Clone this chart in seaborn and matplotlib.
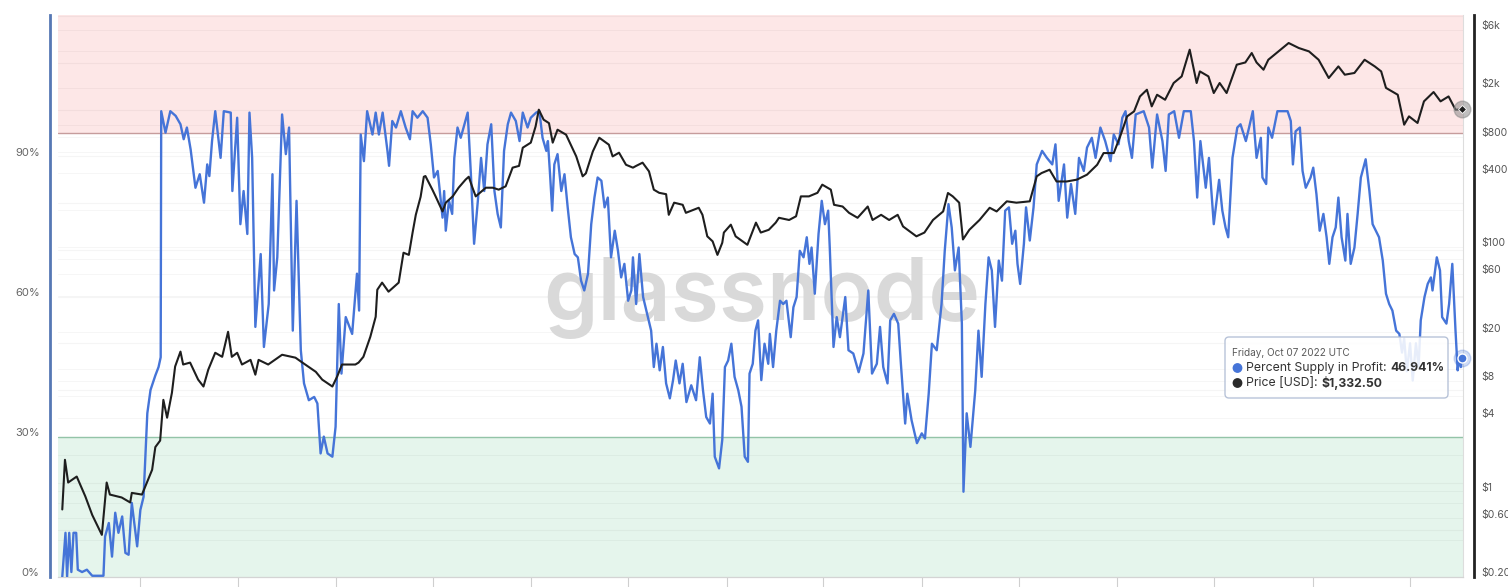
import numpy as np
import pandas as pd
import matplotlib
matplotlib.use("Agg")
import matplotlib.pyplot as plt
import matplotlib.dates as mdates
import seaborn as sns
from matplotlib.transforms import ScaledTranslation, IdentityTransform, blended_transform_factory
from matplotlib.patches import FancyBboxPatch, Circle
from matplotlib.ticker import NullLocator

# ---------------- data ----------------
price_dates = [
    "2015-08-08", "2015-08-13", "2015-08-19", "2015-09-04", "2015-09-20", "2015-10-03", "2015-10-21",
    "2015-10-30", "2015-11-05", "2015-11-27", "2015-12-13", "2015-12-16", "2016-01-04", "2016-01-23",
    "2016-01-29", "2016-02-07", "2016-02-13", "2016-02-20", "2016-02-29", "2016-03-06", "2016-03-16",
    "2016-03-21", "2016-04-03", "2016-04-18", "2016-04-28", "2016-05-07", "2016-05-20", "2016-06-02",
    "2016-06-13", "2016-06-20", "2016-06-30", "2016-07-09", "2016-07-25", "2016-08-03", "2016-08-09",
    "2016-08-27", "2016-09-22", "2016-10-17", "2016-10-30", "2016-11-24", "2016-12-06", "2016-12-25",
    "2017-01-03", "2017-01-12", "2017-02-06", "2017-02-12", "2017-02-21", "2017-03-06", "2017-03-16",
    "2017-03-19", "2017-03-28", "2017-04-09", "2017-04-28", "2017-05-07", "2017-05-17", "2017-05-24",
    "2017-05-30", "2017-06-08", "2017-06-14", "2017-06-17", "2017-06-30", "2017-07-06", "2017-07-19",
    "2017-07-25", "2017-08-07", "2017-08-18", "2017-08-31", "2017-09-06", "2017-09-13", "2017-09-19",
    "2017-10-08", "2017-10-21", "2017-11-01", "2017-11-14", "2017-11-27", "2017-12-09", "2017-12-16",
    "2017-12-31", "2018-01-09", "2018-01-15", "2018-01-24", "2018-02-03", "2018-02-10", "2018-02-19",
    "2018-03-07", "2018-03-26", "2018-04-07", "2018-04-13", "2018-04-26", "2018-05-08", "2018-05-26",
    "2018-06-02", "2018-06-14", "2018-06-27", "2018-07-10", "2018-07-16", "2018-07-28", "2018-08-09",
    "2018-08-18", "2018-08-28", "2018-09-10", "2018-09-15", "2018-09-25", "2018-10-11", "2018-10-17",
    "2018-11-10", "2018-11-17", "2018-11-26", "2018-12-06", "2018-12-15", "2018-12-24", "2018-12-27",
    "2019-01-09", "2019-01-18", "2019-01-31", "2019-02-09", "2019-02-25", "2019-03-06", "2019-03-21",
    "2019-04-03", "2019-04-09", "2019-04-28", "2019-05-11", "2019-05-20", "2019-06-04", "2019-06-20",
    "2019-06-29", "2019-07-09", "2019-07-15", "2019-07-21", "2019-08-06", "2019-08-18", "2019-09-03",
    "2019-09-22", "2019-10-01", "2019-10-17", "2019-11-01", "2019-11-17", "2019-11-27", "2019-12-22",
    "2020-01-06", "2020-01-22", "2020-02-10", "2020-02-19", "2020-02-28", "2020-03-11", "2020-03-18",
    "2020-03-30", "2020-04-18", "2020-05-07", "2020-05-20", "2020-06-08", "2020-06-26", "2020-07-21",
    "2020-08-03", "2020-08-12", "2020-08-27", "2020-09-09", "2020-09-28", "2020-10-17", "2020-11-05",
    "2020-11-24", "2020-12-06", "2020-12-25", "2021-01-06", "2021-01-19", "2021-02-01", "2021-02-12",
    "2021-02-25", "2021-03-06", "2021-03-16", "2021-03-31", "2021-04-16", "2021-05-01", "2021-05-16",
    "2021-05-29", "2021-06-04", "2021-06-20", "2021-06-30", "2021-07-11", "2021-07-24", "2021-08-12",
    "2021-08-28", "2021-09-09", "2021-09-18", "2021-10-01", "2021-10-10", "2021-10-29", "2021-11-17",
    "2021-12-06", "2021-12-25", "2022-01-12", "2022-01-31", "2022-02-18", "2022-03-02", "2022-03-20",
    "2022-04-08", "2022-04-27", "2022-05-09", "2022-05-18", "2022-06-09", "2022-06-21", "2022-06-30",
    "2022-07-16", "2022-07-28", "2022-08-15", "2022-08-28", "2022-09-12", "2022-09-25", "2022-10-07",
]
price_usd = [
    0.71, 1.81, 1.18, 1.32, 0.91, 0.64, 0.44,
    1.18, 0.94, 0.89, 0.81, 0.97, 0.94, 1.5,
    2.3, 2.6, 5.6, 4.0, 6.4, 10.5, 13.9,
    10.9, 11.3, 8.2, 7.2, 9.9, 13.6, 12.6,
    20.2, 12.6, 13.6, 10.9, 11.9, 9.0, 11.9,
    10.9, 13.1, 12.4, 11.3, 9.5, 8.2, 7.2,
    8.7, 10.9, 10.9, 11.3, 12.6, 18.4, 26.8,
    44.6, 51, 43, 51, 89.6, 86, 131,
    183, 257, 375, 380, 294, 259, 195,
    230, 259, 305, 355, 375, 305, 259,
    305, 305, 294, 313, 445, 460, 648,
    713, 968, 1327, 1099, 1030, 713, 910,
    828, 550, 378, 400, 604, 782, 686,
    550, 590, 470, 445, 460, 489, 415,
    294, 277, 270, 183, 230, 221, 190,
    209, 183, 122, 111, 86, 108, 131,
    152, 122, 111, 104, 158, 131, 138,
    158, 173, 166, 178, 259, 259, 277,
    323, 305, 294, 221, 214, 190, 173,
    214, 166, 183, 166, 183, 147, 122,
    131, 166, 195, 276, 259, 230, 115,
    138, 166, 209, 195, 236, 230, 236,
    378, 402, 428, 343, 343, 355, 390,
    470, 586, 586, 802, 1170, 1285, 1703,
    1932, 1412, 1758, 1600, 2193, 2485, 4110,
    2193, 2730, 2485, 1816, 2193, 1816, 3097,
    3230, 3860, 3230, 2818, 3400, 3980, 4660,
    4240, 3980, 3400, 2410, 3000, 2565, 2650,
    3400, 3000, 2730, 2000, 1758, 1000, 1170,
    1033, 1552, 1850, 1552, 1703, 1327, 1332.50,
]

# days since 2016-01-01
profit_day_offsets = [
    -146, -140, -137, -133, -129, -125, -120, -117, -109, -100, -90, -69, -66, -59, -53, -47, -41, -34,
    -28, -22, -16, -6, 0, 6, 13, 19, 28, 34, 38, 39, 47, 56, 66, 75, 81, 87, 94, 103, 111, 119, 125,
    129, 134, 140, 150, 156, 169, 172, 181, 187, 193, 200, 204, 209, 215, 220, 225, 231, 240, 247, 250,
    256, 265, 272, 278, 285, 292, 300, 306, 315, 325, 331, 337, 343, 350, 359, 365, 371, 376, 384, 396,
    405, 409, 412, 418, 424, 434, 440, 446, 453, 462, 465, 471, 478, 487, 496, 504, 509, 518, 528, 537,
    543, 549, 556, 565, 568, 571, 577, 583, 587, 593, 599, 612, 618, 624, 631, 637, 643, 649, 656, 662,
    668, 674, 680, 687, 693, 702, 709, 715, 724, 730, 740, 746, 752, 759, 762, 766, 770, 774, 780, 787,
    793, 799, 805, 812, 818, 824, 830, 837, 843, 849, 855, 862, 868, 874, 880, 887, 893, 899, 905, 912,
    918, 921, 927, 933, 940, 946, 955, 960, 965, 971, 977, 983, 990, 996, 1001, 1008, 1014, 1021, 1030,
    1039, 1046, 1052, 1058, 1065, 1070, 1074, 1082, 1088, 1093, 1099, 1105, 1111, 1118, 1124, 1130,
    1136, 1139, 1145, 1150, 1155, 1161, 1167, 1174, 1177, 1183, 1189, 1196, 1202, 1208, 1216, 1221,
    1227, 1233, 1240, 1246, 1251, 1255, 1261, 1268, 1274, 1280, 1286, 1289, 1296, 1302, 1308, 1318,
    1324, 1333, 1343, 1352, 1361, 1368, 1377, 1383, 1389, 1397, 1402, 1409, 1417, 1422, 1430, 1434,
    1442, 1452, 1461, 1467, 1474, 1480, 1489, 1498, 1504, 1511, 1517, 1523, 1530, 1536, 1539, 1545,
    1552, 1561, 1567, 1573, 1580, 1586, 1592, 1598, 1605, 1611, 1617, 1624, 1630, 1636, 1640, 1645,
    1652, 1656, 1663, 1670, 1676, 1686, 1695, 1705, 1711, 1717, 1727, 1733, 1740, 1748, 1755, 1764,
    1770, 1779, 1786, 1795, 1804, 1814, 1820, 1829, 1836, 1842, 1848, 1854, 1861, 1876, 1886, 1892,
    1901, 1911, 1917, 1923, 1933, 1942, 1951, 1964, 1970, 1976, 1982, 1992, 1998, 2007, 2017, 2023,
    2029, 2034, 2042, 2051, 2057, 2067, 2073, 2080, 2087, 2095, 2098, 2105, 2109, 2116, 2126, 2145,
    2151, 2155, 2160, 2168, 2173, 2179, 2188, 2193, 2199, 2205, 2212, 2218, 2223, 2229, 2235, 2240,
    2246, 2253, 2257, 2263, 2270, 2276, 2282, 2291, 2298, 2304, 2310, 2316, 2323, 2329, 2335, 2341,
    2348, 2354, 2359, 2363, 2368, 2374, 2379, 2385, 2390, 2394, 2401, 2407, 2413, 2416, 2424, 2430,
    2434, 2442, 2447, 2453, 2459, 2463, 2466, 2469, 2471,
]
profit_pct = [
    0, 9.4, 0, 9.4, 1, 9.4, 9.4, 1.5, 1, 1.5, 0.2, 0.2, 8.6, 11.5, 4.3, 13.7, 9.4, 12.9,
    5.1, 4.7, 15.8, 6.5, 14.3, 17.1, 35, 40, 43.1, 44.9, 47, 99.7, 95.1, 99.7, 98.7, 96.9, 93.7, 96.2, 91.5, 83.3, 86.2, 80.1, 88.3,
    85.8, 93.3, 99.7, 89.7, 99.7, 99.4, 82.6, 98.3, 75.5, 82.6, 73.4, 99.4, 89.7, 53.5, 61.3, 69.1, 49.2, 58.4, 86.2, 61.3,
    68.4, 99, 90.5, 96.2, 52.7, 80.5, 48.5, 41.4, 37.8, 38.5, 37.1, 26.4, 30, 26.4, 25.7, 32.1, 58.4, 43.5, 55.6, 52,
    64.9, 57, 94.7, 89, 99.7, 94.7, 99.4, 94.7, 99.4, 91.2, 88, 97.6, 96.2, 99.7, 96.2, 93.7, 99.7, 98.3, 99.7, 98.3,
    92.6, 85.5, 86.9, 76.9, 82.6, 74.1, 80.5, 77.7, 89.7, 96.2, 94, 99.4, 86.2, 71.3, 80.5, 89.7, 82.6, 92.6, 96.9, 82.6,
    77.7, 74.8, 91.2, 96.9, 99.4, 97.6, 93.3, 99.4, 96.2, 98.3, 99.4, 99.7, 94, 91.2, 93.3, 86.2, 78.4, 88.3, 90.5, 82.6,
    86.2, 79.1, 72.7, 69.1, 68.4, 63.4, 61.3, 64.9, 75.5, 81.2, 85.5, 84.8, 79.1, 81.2, 68.4, 74.1, 69.8, 64.1, 67, 59.1,
    61.3, 68.4, 58.4, 69.1, 59.9, 57, 52.7, 44.9, 49.9, 44.2, 49.2, 41.4, 38.2, 42.1, 46.3, 41.4, 45.6, 37.4, 41,
    37.8, 47, 39.9, 34.2, 32.8, 39.2, 25.7, 23.2, 29.3, 44.9, 46.3, 49.9, 42.8, 39.9, 36.4, 25.7,
    24.6, 43.5, 45.6, 52.7, 54.9, 42.1, 49.9, 45.6, 52, 44.9, 52.7, 59.1, 58.4, 59.1, 51.3, 57.7,
    59.9, 69.8, 68.4, 72.7, 67, 70.5, 60.6, 73.4, 80.5, 75.5, 78.4, 70.5, 49.2, 55.6, 51.3, 59.9,
    48.5, 47.8, 43.8, 47.8, 61.3, 43.5, 45.6, 53.5, 44.9, 41.4, 54.9, 56.3, 54.2, 45.6, 32.8, 39.2,
    33.5, 28.6, 30.7, 29.6, 39.2, 49.9, 48.5, 58.4, 69.8, 79.8, 74.8, 65.6, 70.5, 54.2, 18.2, 35,
    27.8, 39.9, 52.7, 42.8, 58.4, 68.4, 65.6, 53.5, 67.7, 63.4, 78.4, 79.1, 71.3, 74.1, 67, 62.7,
    71.3, 79.1, 72, 79.1, 88.3, 91.2, 89.7, 88.3, 92.6, 80.5, 88.3, 76.9, 84.1, 77.7, 89.7, 86.9,
    91.9, 94, 89.7, 96.2, 93.3, 89, 94.7, 92.6, 98.3, 99.7, 93.3, 89.7, 99, 99.7, 96.2, 87.6,
    99, 93.3, 86.9, 99, 99.7, 94, 99.7, 99.7, 93.3, 81.2, 93.3, 83.3, 89.7, 75.5, 85, 78.4,
    74.8, 72.7, 89.7, 96.2, 96.9, 93.3, 96.2, 99.7, 89.7, 94, 85.5, 84.1, 96.2, 94, 99.7, 99.7,
    97.6, 88.3, 95.4, 96.2, 86.9, 83.3, 85.5, 87.6, 81.9, 74.1, 77.7, 72.7, 67, 72.7, 74.8, 81.2,
    72.7, 67.7, 77.7, 67, 70.5, 77.7, 85.5, 89.4, 82.6, 75.5, 74.1, 72.7, 67.7, 60.6, 58.4, 57,
    52.7, 52, 48, 51, 44, 50, 42, 50, 45, 54.9, 59.9, 62.7, 64.1, 61.3, 68.4, 65.6,
    55.6, 54.2, 58.4, 67, 52.7, 44.2, 47, 44.9, 46.941,
]

left_ticks = [0, 30, 60, 90]
left_tick_labels = ["0%", "30%", "60%", "90%"]
right_ticks = [0.2, 0.6, 1, 4, 8, 20, 60, 100, 400, 800, 2000, 6000]
right_tick_labels = ["$0.20", "$0.60", "$1", "$4", "$8", "$20", "$60", "$100", "$400", "$800", "$2k", "$6k"]
price_grid = [0.4, 0.6, 0.8, 1, 2, 4, 6, 8, 10, 20, 40, 60, 80, 100, 200, 400, 600, 800,
              1000, 2000, 4000, 6000]
upper_band = 95
lower_band = 30
tooltip_date = "2022-10-07"
tooltip_title = "Friday, Oct 07 2022 UTC"
tooltip_pct = 46.941
tooltip_price = 1332.50

# ---------------- style ----------------
sns.set_style("white")
plt.rcParams["font.family"] = ["Inter", "DejaVu Sans"]

BLUE = "#4574d8"
BLACK = "#1e1e1e"

W, H = 1508, 587
fig = plt.figure(figsize=(W / 100, H / 100), dpi=100)
ax = fig.add_axes([58 / W, (H - 576.7) / H, (1463 - 58) / W, (576.7 - 15) / H])
ax2 = ax.twinx()

profit_df = pd.DataFrame({
    "date": pd.Timestamp("2016-01-01") + pd.to_timedelta(profit_day_offsets, unit="D"),
    "pct": profit_pct,
})
price_df = pd.DataFrame({"date": pd.to_datetime(price_dates), "price": price_usd})

ax.set_ylim(0, 120.3)
ax2.set_yscale("log")
ax2.set_ylim(0.2, 7900)
xmin, xmax = pd.Timestamp("2015-07-31"), pd.Timestamp("2022-10-09")

# bands
ax.axhspan(upper_band, 120.3, color="#fde7e7", lw=0, zorder=0)
ax.axhspan(0, lower_band, color="#e5f5ec", lw=0, zorder=0)

# gridlines (percent and log price)
for v in range(10, 121, 10):
    ax.axhline(v, color="#000000", alpha=0.04, lw=0.8, zorder=0.5)
btrans = blended_transform_factory(ax.transAxes, ax2.transData)
for v in price_grid:
    ax.plot([0, 1], [v, v], transform=btrans, color="#000000", alpha=0.035, lw=0.8, zorder=0.5)

ax.axhline(upper_band, color="#c69c9c", lw=1.0, zorder=1)
ax.axhline(lower_band, color="#93c4a8", lw=1.0, zorder=1)

# watermark
ax.text(762 / W, 1 - 320 / H, "glassnode", transform=fig.transFigure, ha="center", va="baseline",
        fontsize=63, fontweight="semibold", color="#d9d9d9", zorder=0.8, clip_on=False)

# series
sns.lineplot(data=profit_df, x="date", y="pct", ax=ax, color=BLUE, lw=1.7, zorder=3,
             estimator=None, sort=False)
sns.lineplot(data=price_df, x="date", y="price", ax=ax2, color=BLACK, lw=1.5, zorder=3,
             estimator=None, sort=False)

ax.set_xlim(xmin, xmax)
ax2.set_xlim(xmin, xmax)
ax.set_xlabel("")
ax.set_ylabel("")
ax2.set_xlabel("")
ax2.set_ylabel("")

# end markers
td = pd.Timestamp(tooltip_date)
ax.plot([td], [tooltip_pct], "o", ms=12, color=BLUE, alpha=0.25, zorder=6, clip_on=False)
ax.plot([td], [tooltip_pct], "o", ms=6.5, color=BLUE, mec="white", mew=1.0, zorder=7, clip_on=False)
ax2.plot([td], [tooltip_price], "o", ms=12, color="#8c8c8c", alpha=0.55, zorder=6, clip_on=False)
ax2.plot([td], [tooltip_price], "D", ms=4, color=BLACK, mec="white", mew=0.6, zorder=7, clip_on=False)

# axes styling
ax.xaxis.set_major_locator(mdates.MonthLocator(bymonth=[1, 7]))
ax.tick_params(axis="x", which="both", length=7, width=0.8, color="#cfcfcf", labelbottom=False,
               bottom=True, direction="out")
ax2.tick_params(axis="x", which="both", length=0, labelbottom=False, bottom=False)

ax.set_yticks(left_ticks, left_tick_labels)
ax.yaxis.set_minor_locator(NullLocator())
ax.tick_params(axis="y", which="both", length=0, pad=7.2, labelsize=8, labelcolor="#666666",
               left=True, right=False)

ax2.set_yticks(right_ticks, right_tick_labels)
ax2.yaxis.set_minor_locator(NullLocator())
ax2.tick_params(axis="y", which="both", length=0, pad=5.0, labelsize=7.5, labelcolor="#555555")

ax.spines["top"].set_visible(False)
ax.spines["left"].set_position(("outward", 6))
ax.spines["left"].set_color("#5678b4")
ax.spines["left"].set_linewidth(2.0)
ax.spines["bottom"].set_color("#d4d4d4")
ax.spines["bottom"].set_linewidth(0.9)
ax.spines["right"].set_color("#dddddd")
ax.spines["right"].set_linewidth(0.8)
for sp in ["top", "left", "bottom"]:
    ax2.spines[sp].set_visible(False)
ax2.spines["right"].set_position(("outward", 8))
ax2.spines["right"].set_color("#222222")
ax2.spines["right"].set_linewidth(2.0)

# shift tick labels slightly above their values (as in the reference)
shift = ScaledTranslation(0, 4.7 / 100, fig.dpi_scale_trans)
for lab in ax.get_yticklabels() + ax2.get_yticklabels():
    lab.set_transform(lab.get_transform() + shift)

# ---------------- tooltip ----------------
box = FancyBboxPatch((1225, H - 398), 223, 61, boxstyle="round,pad=0,rounding_size=4",
                     transform=IdentityTransform(), facecolor="white", edgecolor="#aebbd3",
                     lw=1.0, alpha=0.88, zorder=20)
fig.add_artist(box)
fig.text(1232 / W, 1 - 353 / H, tooltip_title, fontsize=7.2, color="#5a5a5a", va="center",
         ha="left", zorder=21)
fig.add_artist(Circle((1237.5, H - 368), 4.2, transform=IdentityTransform(), color=BLUE, zorder=21))
fig.add_artist(Circle((1237.5, H - 383), 4.2, transform=IdentityTransform(), color="#2a2a2a", zorder=21))

renderer = fig.canvas.get_renderer()
t1 = fig.text(1246 / W, 1 - 368 / H, "Percent Supply in Profit: ", fontsize=8.8, color="#333333",
              va="center", ha="left", zorder=21)
bb = t1.get_window_extent(renderer=renderer)
fig.text(bb.x1 / W, 1 - 368 / H, f"{tooltip_pct:.3f}%", fontsize=8.8, color="#333333",
         fontweight="bold", va="center", ha="left", zorder=21)
t2 = fig.text(1246 / W, 1 - 383 / H, "Price [USD]: ", fontsize=8.8, color="#333333",
              va="center", ha="left", zorder=21)
bb2 = t2.get_window_extent(renderer=renderer)
fig.text(bb2.x1 / W, 1 - 383 / H, f"${tooltip_price:,.2f}", fontsize=8.8, color="#333333",
         fontweight="bold", va="center", ha="left", zorder=21)

fig.savefig("out.png", dpi=100, facecolor="white")
